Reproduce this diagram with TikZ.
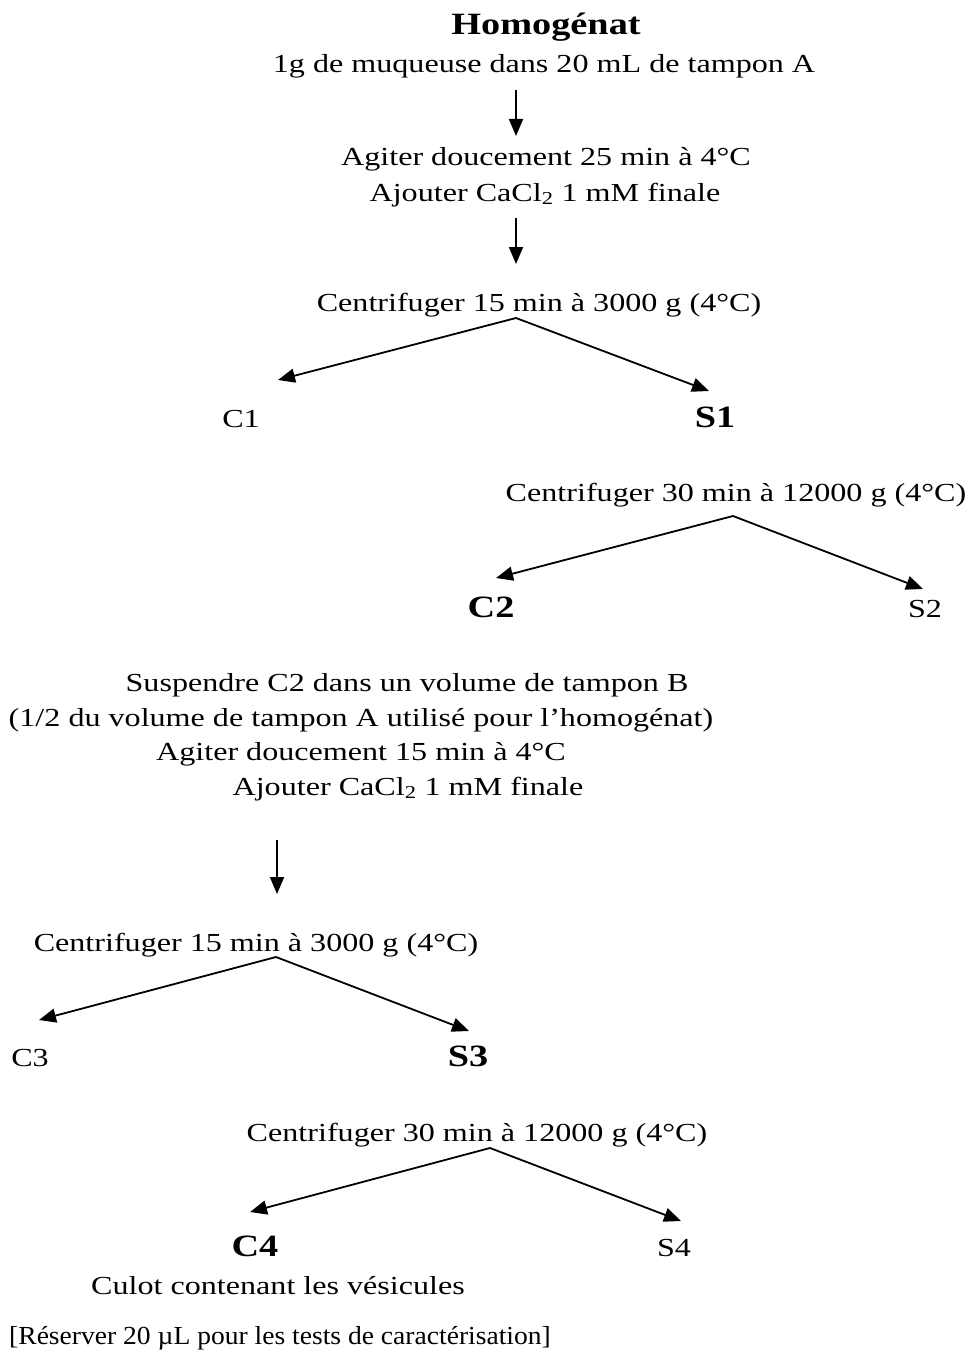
\documentclass[tikz,border=0pt]{standalone}
\usepackage{fontspec}
\usepackage{graphicx}
\setmainfont{Liberation Serif}
\usetikzlibrary{arrows.meta}
\newcommand{\sx}[1]{\scalebox{1.235}[1]{#1}}
\begin{document}
\begin{tikzpicture}[x=1pt,y=-1pt,
  txt/.style={inner sep=0pt,anchor=base,font=\fontsize{26}{30}\selectfont},
  big/.style={inner sep=0pt,anchor=base,font=\fontsize{31}{36}\selectfont\bfseries},
  arr/.style={line width=1.8pt,-{Triangle[length=17pt,width=14pt]}}]
\useasboundingbox (0,0) rectangle (970,1351);
% top
\node[big] (hom) at (546,35) {\sx{Homogénat}};
\node[txt] (mq) at (544,73) {\sx{1g de muqueuse dans 20 mL de tampon A}};
\coordinate (a1s) at (516,90); \coordinate (a1e) at (516,136);
\draw[arr] (a1s) -- (a1e);
\node[txt] (ag1) at (546,166) {\sx{Agiter doucement 25 min à 4°C}};
\node[txt] (aj1) at (545,201) {\sx{Ajouter CaCl\textsubscript{2} 1 mM finale}};
\coordinate (a2s) at (516,218); \coordinate (a2e) at (516,264);
\draw[arr] (a2s) -- (a2e);
\node[txt] (cf1) at (539,311) {\sx{Centrifuger 15 min à 3000 g (4°C)}};
\coordinate (sp1) at (516,318);
\coordinate (t1l) at (278,380); \coordinate (t1r) at (709,391);
\draw[arr] (sp1) -- (t1l);
\draw[arr] (sp1) -- (t1r);
\node[txt] (c1) at (241,427) {\sx{C1}};
\node[big] (s1) at (715,427) {\sx{S1}};
% second
\node[txt] (cf2) at (736,501) {\sx{Centrifuger 30 min à 12000 g (4°C)}};
\coordinate (sp2) at (733,516);
\coordinate (t2l) at (496,578); \coordinate (t2r) at (923,589);
\draw[arr] (sp2) -- (t2l);
\draw[arr] (sp2) -- (t2r);
\node[big] (c2) at (491,617) {\sx{C2}};
\node[txt] (s2) at (925,617) {\sx{S2}};
% block
\node[txt] (su) at (407,691) {\sx{Suspendre C2 dans un volume de tampon B}};
\node[txt] (vo) at (361,726) {\sx{(1/2 du volume de tampon A utilisé pour l’homogénat)}};
\node[txt] (ag2) at (361,760) {\sx{Agiter doucement 15 min à 4°C}};
\node[txt] (aj2) at (408,795) {\sx{Ajouter CaCl\textsubscript{2} 1 mM finale}};
\coordinate (a3s) at (277,840); \coordinate (a3e) at (277,894);
\draw[arr] (a3s) -- (a3e);
\node[txt] (cf3) at (256,951) {\sx{Centrifuger 15 min à 3000 g (4°C)}};
\coordinate (sp3) at (276,957);
\coordinate (t3l) at (39,1020); \coordinate (t3r) at (469,1031);
\draw[arr] (sp3) -- (t3l);
\draw[arr] (sp3) -- (t3r);
\node[txt] (c3) at (30,1066) {\sx{C3}};
\node[big] (s3) at (468,1066) {\sx{S3}};
% fourth
\node[txt] (cf4) at (477,1141) {\sx{Centrifuger 30 min à 12000 g (4°C)}};
\coordinate (sp4) at (490,1148);
\coordinate (t4l) at (250,1212); \coordinate (t4r) at (681,1221);
\draw[arr] (sp4) -- (t4l);
\draw[arr] (sp4) -- (t4r);
\node[big] (c4) at (255,1256) {\sx{C4}};
\node[txt] (s4) at (674,1256) {\sx{S4}};
\node[txt] (cu) at (278,1294) {\sx{Culot contenant les vésicules}};
\node[txt] (re) at (280,1344) {\scalebox{1.06}[1]{[Réserver 20 µL pour les tests de caractérisation]}};
\end{tikzpicture}
\end{document}
